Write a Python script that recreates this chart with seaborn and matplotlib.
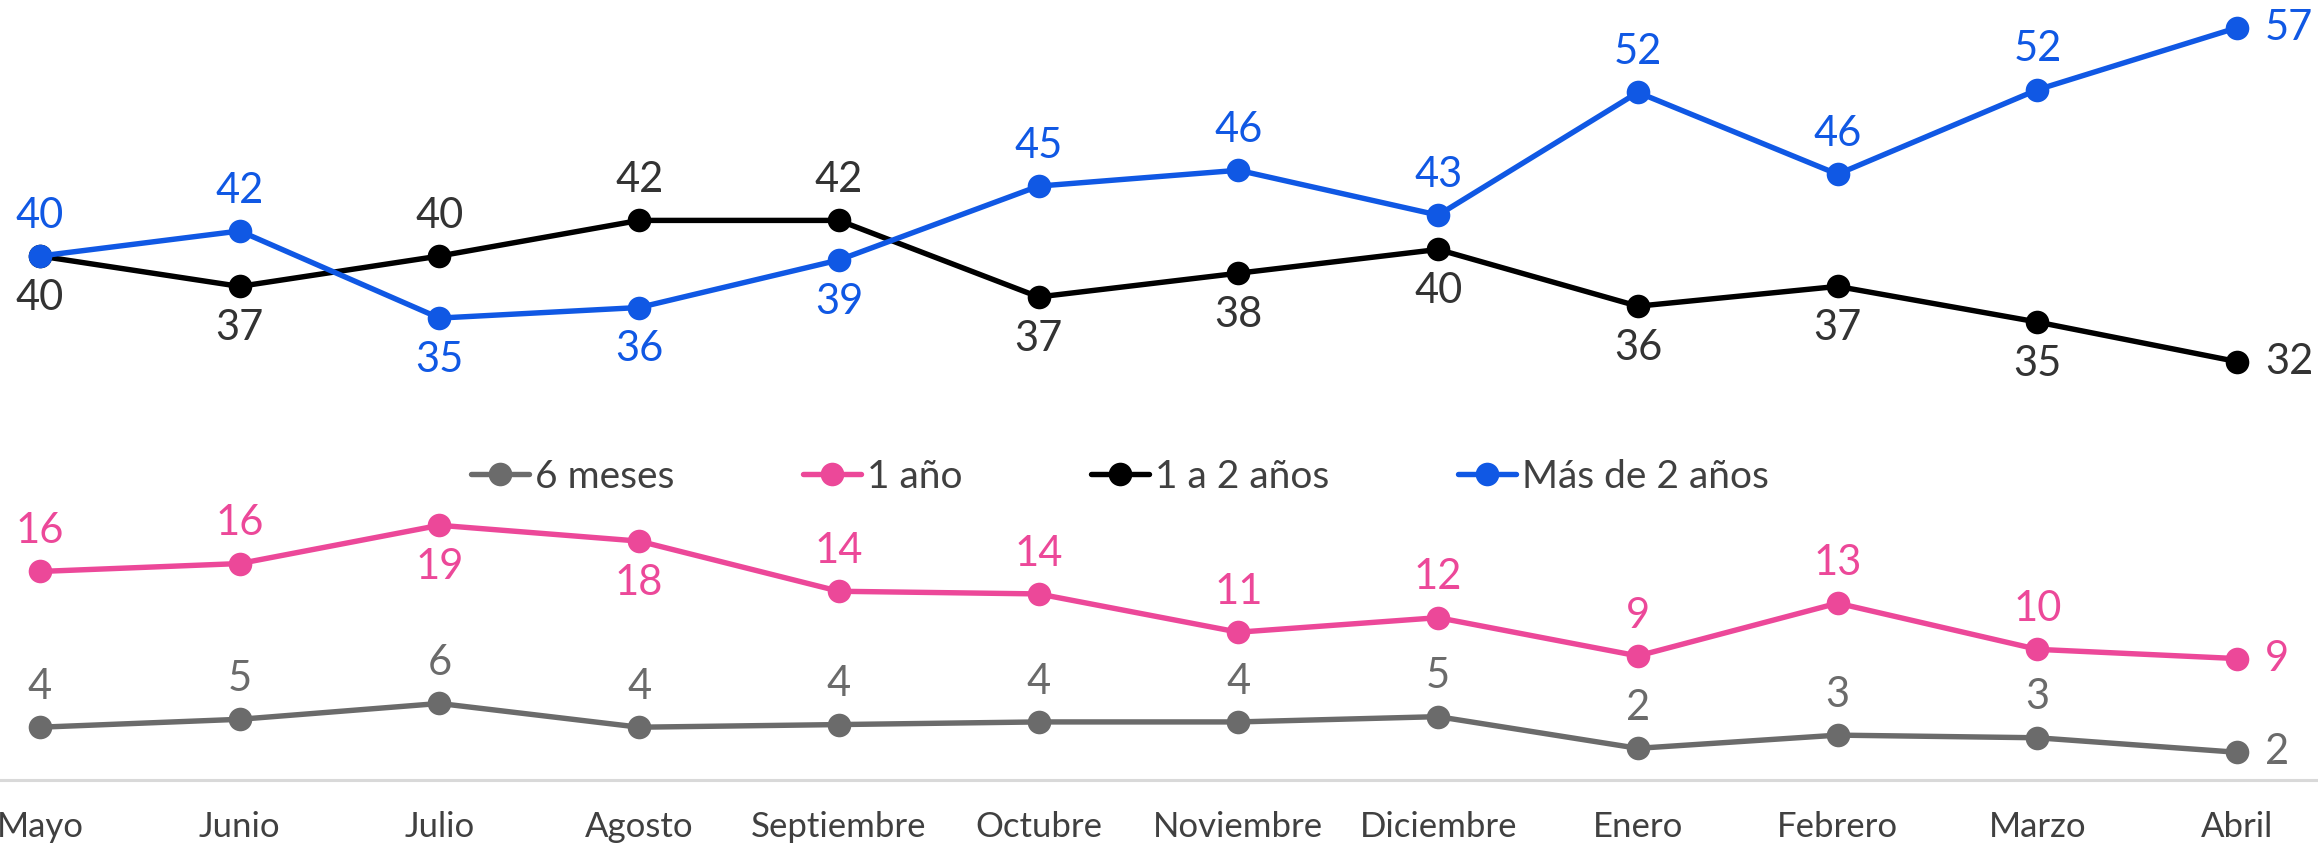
import matplotlib
matplotlib.use("Agg")
import matplotlib.pyplot as plt
import seaborn as sns
import pandas as pd

# ---- data ----
months = ["Mayo", "Junio", "Julio", "Agosto", "Septiembre", "Octubre",
          "Noviembre", "Diciembre", "Enero", "Febrero", "Marzo", "Abril"]
series_names = ["6 meses", "1 año", "1 a 2 años", "Más de 2 años"]
seis_meses = [4.0, 4.6, 5.8, 4.0, 4.2, 4.4, 4.4, 4.8, 2.4, 3.4, 3.2, 2.1]
un_anio = [15.8, 16.4, 19.3, 18.1, 14.3, 14.1, 11.2, 12.3, 9.4, 13.4, 9.9, 9.2]
uno_a_dos = [39.7, 37.4, 39.7, 42.4, 42.4, 36.6, 38.4, 40.2, 35.9, 37.4, 34.7, 31.7]
mas_de_dos = [39.7, 41.6, 35.0, 35.8, 39.4, 45.0, 46.2, 42.8, 52.1, 45.9, 52.3, 57.0]

# ---- styles ----
colors = ["#6b6b6b", "#ec4899", "#000000", "#1058e4"]
label_colors = ["#6b6b6b", "#ec4899", "#333333", "#1058e4"]
label_side = [
    ["a"] * 11 + ["r"],
    ["a", "a", "b", "b", "a", "a", "a", "a", "a", "a", "a", "r"],
    ["b", "b", "a", "a", "a", "b", "b", "b", "b", "b", "b", "r"],
    ["a", "a", "b", "b", "b", "a", "a", "a", "a", "a", "a", "r"],
]

all_vals = [seis_meses, un_anio, uno_a_dos, mas_de_dos]
rows = []
for name, vals in zip(series_names, all_vals):
    for i, (m, v) in enumerate(zip(months, vals)):
        rows.append({"idx": i, "mes": m, "valor": v, "serie": name})
df = pd.DataFrame(rows)

sns.set_style("white")
plt.rcParams["font.family"] = ["Lato", "DejaVu Sans"]

fig = plt.figure(figsize=(23.18, 8.43), dpi=100)
ax = fig.add_axes([0, (843 - 780) / 843, 1, 780 / 843])

sns.lineplot(data=df, x="idx", y="valor", hue="serie", hue_order=series_names,
             palette=colors, marker="o", markersize=17, linewidth=3.9,
             markeredgewidth=0, ax=ax, legend=True, zorder=3)

# data labels
for s, vals in enumerate(all_vals):
    for i, v in enumerate(vals):
        side = label_side[s][i]
        if side == "a":
            off, ha = (0, 29), "center"
        elif side == "b":
            off, ha = (0, -30), "center"
        else:
            off, ha = (20, 0), "left"
        ax.annotate(f"{v:.0f}", (i, v), xytext=off, textcoords="offset points",
                    ha=ha, va="center", fontsize=30, color=label_colors[s])

ax.set_xlim(-0.2, 11.405)
ax.set_ylim(0, 59.1)
ax.set_xticks(range(len(months)))
ax.set_xticklabels(months, fontsize=25, color="#404040")
ax.set_yticks([])
ax.set_xlabel("")
ax.set_ylabel("")
ax.tick_params(axis="x", length=0, pad=22)
for sp in ["top", "right", "left"]:
    ax.spines[sp].set_visible(False)
ax.spines["bottom"].set_color("#d9d9d9")
ax.spines["bottom"].set_linewidth(2.2)

handles, labels = ax.get_legend_handles_labels()
ax.legend_.remove()
leg = fig.legend(handles, labels, loc="center", bbox_to_anchor=(1120 / 2318, 1 - 477 / 843),
                 ncol=4, frameon=False, fontsize=28, handlelength=1.5,
                 handletextpad=0.15, columnspacing=3.3, markerscale=1.0)
for t in leg.get_texts():
    t.set_color("#404040")

fig.savefig("out.png", dpi=100)
